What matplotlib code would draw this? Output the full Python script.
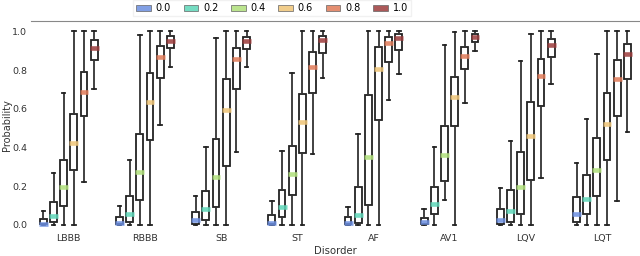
import matplotlib.pyplot as plt
from matplotlib.patches import Patch

disorders = ["LBBB", "RBBB", "SB", "ST", "AF", "AV1", "LQV", "LQT"]
levels = ["0.0", "0.2", "0.4", "0.6", "0.8", "1.0"]
colors = ["#6b8ee0", "#5dd6b8", "#b0e07a", "#efc577", "#e07a58", "#9c3c3c"]

# per level: one value per disorder (LBBB ... LQT)
whislo = {
    "0.0": [0, 0, 0, 0, 0, 0, 0, 0],
    "0.2": [0, 0, 0, 0, 0, 0, 0, 0],
    "0.4": [0, 0, 0, 0, 0, 0.131, 0, 0],
    "0.6": [0, 0, 0, 0, 0, 0, 0, 0],
    "0.8": [0.224, 0.517, 0.379, 0.369, 0.644, 0.632, 0.243, 0.126],
    "1.0": [0.703, 0.818, 0.818, 0.76, 0.779, 0.898, 0.73, 0.481],
}
q1 = {
    "0.0": [0.003, 0.007, 0.007, 0.003, 0.003, 0.003, 0.003, 0.017],
    "0.2": [0.014, 0.017, 0.024, 0.04, 0.012, 0.055, 0.014, 0.059],
    "0.4": [0.10, 0.131, 0.091, 0.153, 0.103, 0.229, 0.059, 0.15],
    "0.6": [0.283, 0.439, 0.303, 0.374, 0.544, 0.512, 0.233, 0.334],
    "0.8": [0.565, 0.761, 0.703, 0.682, 0.844, 0.804, 0.613, 0.563],
    "1.0": [0.853, 0.913, 0.908, 0.889, 0.904, 0.946, 0.866, 0.756],
}
med = {
    "0.0": [0.007, 0.012, 0.026, 0.012, 0.012, 0.017, 0.028, 0.059],
    "0.2": [0.045, 0.059, 0.081, 0.095, 0.053, 0.109, 0.074, 0.136],
    "0.4": [0.196, 0.276, 0.248, 0.265, 0.351, 0.363, 0.198, 0.283],
    "0.6": [0.424, 0.636, 0.594, 0.534, 0.804, 0.66, 0.458, 0.522],
    "0.8": [0.687, 0.866, 0.86, 0.815, 0.941, 0.875, 0.77, 0.756],
    "1.0": [0.915, 0.953, 0.953, 0.954, 0.968, 0.97, 0.932, 0.885],
}
q3 = {
    "0.0": [0.031, 0.043, 0.065, 0.052, 0.04, 0.038, 0.081, 0.143],
    "0.2": [0.117, 0.148, 0.177, 0.179, 0.195, 0.195, 0.183, 0.257],
    "0.4": [0.334, 0.472, 0.443, 0.407, 0.674, 0.51, 0.376, 0.448],
    "0.6": [0.575, 0.787, 0.755, 0.675, 0.92, 0.767, 0.637, 0.684],
    "0.8": [0.79, 0.923, 0.916, 0.892, 0.973, 0.918, 0.86, 0.854],
    "1.0": [0.954, 0.975, 0.97, 0.978, 0.989, 0.985, 0.961, 0.937],
}
whishi = {
    "0.0": [0.074, 0.10, 0.15, 0.126, 0.095, 0.083, 0.193, 0.32],
    "0.2": [0.27, 0.336, 0.403, 0.382, 0.472, 0.401, 0.432, 0.55],
    "0.4": [0.684, 0.982, 0.968, 0.784, 1.0, 0.93, 0.849, 0.885],
    "0.6": [1.0, 1.0, 1.0, 1.0, 1.0, 0.996, 0.989, 1.0],
    "0.8": [1.0, 1.0, 1.0, 1.0, 1.0, 1.0, 1.0, 1.0],
    "1.0": [1.0, 1.0, 1.0, 1.0, 1.0, 1.0, 1.0, 1.0],
}

fig = plt.figure(figsize=(6.4, 2.56), dpi=100)
ax = fig.add_axes([0.048, 0.106, 0.952, 0.812])

slot = 0.8 / len(levels)
box_w = 0.09
for j, lev in enumerate(levels):
    offset = -0.4 + slot * (j + 0.5)
    stats = []
    for i in range(len(disorders)):
        stats.append({"whislo": whislo[lev][i], "q1": q1[lev][i], "med": med[lev][i],
                      "q3": q3[lev][i], "whishi": whishi[lev][i], "fliers": []})
    pos = [i + offset for i in range(len(disorders))]
    ax.bxp(stats, positions=pos, widths=box_w, showfliers=False, patch_artist=True,
           boxprops=dict(facecolor="white", edgecolor="#222222", linewidth=1.3),
           whiskerprops=dict(color="#333333", linewidth=1.3),
           capprops=dict(color="#222222", linewidth=1.3),
           medianprops=dict(linewidth=0),
           manage_ticks=False)
    # colored median bars, slightly wider than the boxes
    ax.hlines(med[lev], [p - box_w * 0.65 for p in pos], [p + box_w * 0.65 for p in pos],
              colors=colors[j], linewidth=3.3, alpha=0.85, zorder=5)

ax.set_xlim(-0.5, 7.5)
ax.set_ylim(-0.02, 1.054)
ax.set_xticks(range(len(disorders)))
ax.set_xticklabels(disorders, fontsize=6.8)
ax.set_yticks([0.0, 0.2, 0.4, 0.6, 0.8, 1.0])
ax.tick_params(axis="x", length=0, labelsize=6.8, colors="#333333", pad=3.5)
ax.tick_params(axis="y", length=0, labelsize=6.8, colors="#333333", pad=2.5)
for s in ["left", "right", "bottom"]:
    ax.spines[s].set_visible(False)
ax.spines["top"].set_color("#888888")
ax.set_xlabel("Disorder", fontsize=7.3, color="#333333", labelpad=2)
ax.set_ylabel("Probability", fontsize=7, color="#333333")
ax.yaxis.set_label_coords(-0.031, 0.5)

handles = [Patch(facecolor=c, edgecolor="#666666", linewidth=0.6, alpha=0.85) for c in colors]
fig.legend(handles, levels, loc="center", bbox_to_anchor=(272 / 640, 0.968), ncol=6,
           fontsize=7, frameon=True, edgecolor="#eeeeee", fancybox=False,
           handlelength=1.5, handleheight=0.6, columnspacing=1.3, handletextpad=0.5,
           borderpad=0.3)

fig.savefig("out.png", dpi=100)
